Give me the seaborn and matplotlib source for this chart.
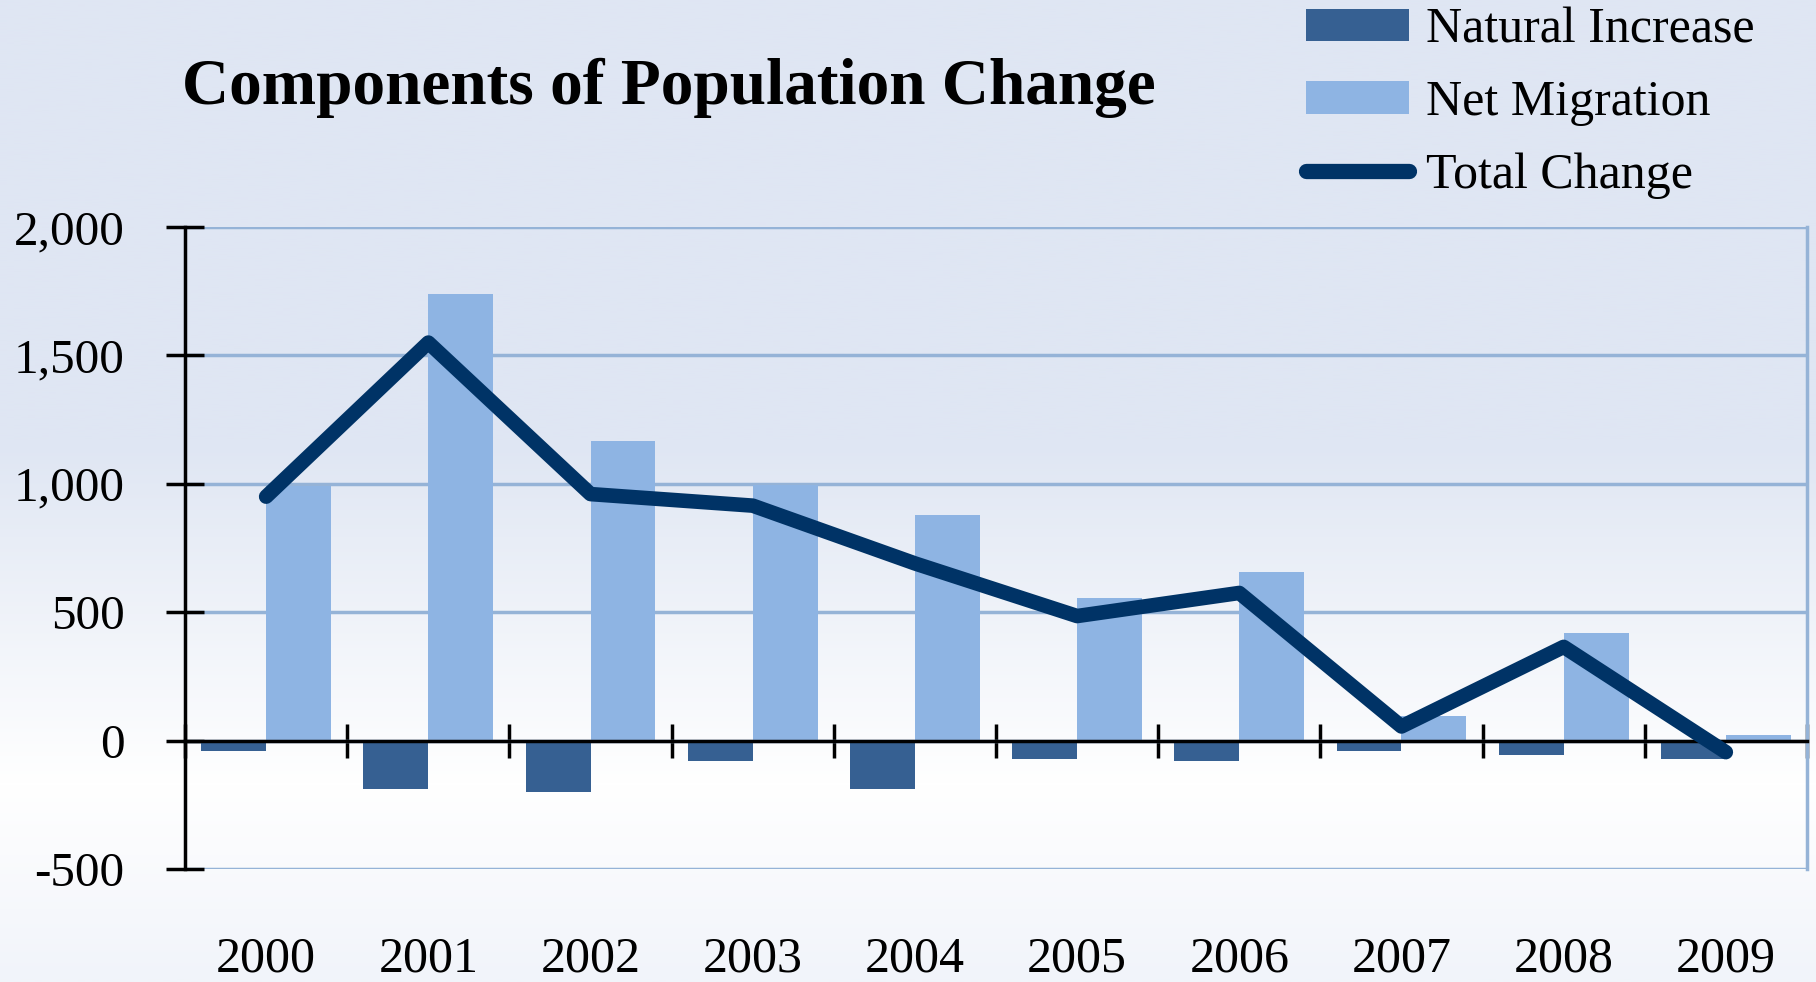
import numpy as np
import pandas as pd
import matplotlib
matplotlib.use("Agg")
import matplotlib.pyplot as plt
from matplotlib.patches import Patch
from matplotlib.lines import Line2D
from matplotlib.colors import LinearSegmentedColormap
import seaborn as sns

# ---- data ----
years = ["2000", "2001", "2002", "2003", "2004", "2005", "2006", "2007", "2008", "2009"]
natural_increase = [-40, -190, -200, -80, -190, -70, -80, -40, -55, -70]
net_migration = [990, 1740, 1165, 995, 880, 555, 655, 95, 420, 20]
total_change = [950, 1550, 960, 915, 690, 485, 575, 55, 365, -45]
series_names = ["Natural Increase", "Net Migration", "Total Change"]
y_ticks = [-500, 0, 500, 1000, 1500, 2000]
title = "Components of Population Change"

# ---- style ----
sns.set_style("white")
plt.rcParams["font.family"] = ["Liberation Serif", "DejaVu Serif"]
plt.rcParams["text.color"] = "black"
plt.rcParams["xtick.color"] = "black"
plt.rcParams["ytick.color"] = "black"

c_nat = "#366092"
c_mig = "#8EB4E3"
c_tot = "#003366"
c_grid = "#95B3D7"

fig = plt.figure(figsize=(18.16, 9.82), dpi=100)

# background gradient
bg = fig.add_axes([0, 0, 1, 1], zorder=-10)
cmap = LinearSegmentedColormap.from_list(
    "bg", [(0.0, "#DFE6F3"), (0.45, "#DFE6F3"), (0.80, "#FFFFFF"), (1.0, "#F1F4FA")])
grad = np.linspace(0, 1, 512).reshape(-1, 1)
bg.imshow(grad, aspect="auto", cmap=cmap, extent=[0, 1, 0, 1], origin="upper")
bg.set_axis_off()

ax = fig.add_axes([0.1019, 0.1151, 0.8931, 0.6537])
ax.set_facecolor("none")

df = pd.DataFrame({
    "year": years * 2,
    "value": natural_increase + net_migration,
    "series": [series_names[0]] * len(years) + [series_names[1]] * len(years),
})
sns.barplot(data=df, x="year", y="value", hue="series",
            hue_order=series_names[:2], palette=[c_nat, c_mig],
            saturation=1, width=0.8, ax=ax, legend=False, zorder=2,
            edgecolor="none", linewidth=0)

df_tot = pd.DataFrame({"year": years, "total": total_change})
sns.pointplot(data=df_tot, x="year", y="total", color=c_tot, markers="",
              linewidth=10.5, errorbar=None, ax=ax, zorder=5)
for ln in ax.lines:
    ln.set_solid_capstyle("round")
    ln.set_solid_joinstyle("round")
    ln.set_zorder(5)

ax.set_ylim(-500, 2000)
ax.set_xlim(-0.5, len(years) - 0.5)
ax.set_yticks(y_ticks)
ax.set_yticklabels([f"{v:,}" for v in y_ticks])
ax.yaxis.grid(True, color=c_grid, linewidth=2.5, zorder=0)
ax.set_axisbelow(True)
ax.set_xlabel("")
ax.set_ylabel("")

ax.spines["top"].set_visible(False)
ax.spines["right"].set_color(c_grid)
ax.spines["right"].set_linewidth(2.5)
ax.spines["left"].set_color("black")
ax.spines["left"].set_linewidth(2.5)
ax.spines["bottom"].set_position(("data", 0))
ax.spines["bottom"].set_color("black")
ax.spines["bottom"].set_linewidth(2.5)
ax.spines["bottom"].set_zorder(4)

ax.tick_params(axis="y", left=True, direction="inout", length=27, width=2.5,
               color="black", labelsize=35.5, pad=30)
ax.set_xticks(np.arange(len(years)))
ax.set_xticklabels(years)
ax.set_xticks(np.arange(-0.5, len(years)), minor=True)
ax.tick_params(axis="x", which="major", bottom=True, length=0, labelsize=36, pad=141)
ax.tick_params(axis="x", which="minor", bottom=True, direction="inout", length=24,
               width=2.5, color="black")

fig.text(0.1002, 0.911, title, fontsize=47, fontweight="bold",
         ha="left", va="center")

handles = [Patch(facecolor=c_nat, edgecolor="none"),
           Patch(facecolor=c_mig, edgecolor="none"),
           Line2D([0], [0], color=c_tot, lw=11, solid_capstyle="round")]
fig.legend(handles, series_names, loc="upper left",
           bbox_to_anchor=(0.708, 1.013), frameon=False, fontsize=36,
           handlelength=2.06, handleheight=0.62, labelspacing=0.52,
           handletextpad=0.35, borderaxespad=0)

fig.savefig("out.png", dpi=100)
